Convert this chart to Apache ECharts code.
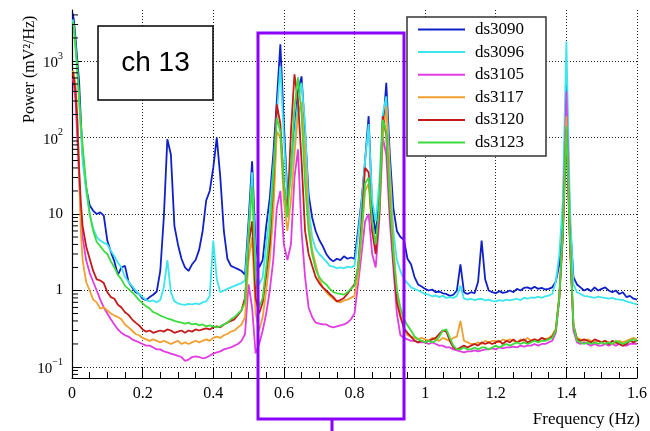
<!DOCTYPE html>
<html><head><meta charset="utf-8">
<script src="https://cdn.jsdelivr.net/npm/echarts@6/dist/echarts.min.js"></script>
<style>html,body{margin:0;padding:0;background:#fff}#c{width:650px;height:431px}</style>
</head><body><div id="c"></div><script>
// Frequency grid (Hz)
const freq = [0.002,0.005,0.01,0.015,0.02,0.025,0.03,
0.04,0.05,0.06,0.07,0.08,0.09,0.10,0.11,0.12,0.13,
0.14,0.15,0.16,0.17,0.18,0.19,0.20,0.21,0.22,0.23,
0.24,0.25,0.26,0.27,0.28,0.29,0.30,0.31,0.32,0.33,
0.34,0.35,0.36,0.37,0.38,0.39,0.40,0.41,0.42,0.43,
0.44,0.45,0.46,0.47,0.48,0.49,0.50,0.51,0.52,0.53,
0.54,0.55,0.56,0.57,0.58,0.59,0.60,0.61,0.62,0.63,
0.64,0.65,0.66,0.67,0.68,0.69,0.70,0.71,0.72,0.73,
0.74,0.75,0.76,0.77,0.78,0.79,0.80,0.81,0.82,0.83,
0.84,0.85,0.86,0.87,0.88,0.89,0.90,0.91,0.92,0.93,
0.94,0.95,0.96,0.97,0.98,0.99,1.00,1.01,1.02,1.03,
1.04,1.05,1.06,1.07,1.08,1.09,1.10,1.11,1.12,1.13,
1.14,1.15,1.16,1.17,1.18,1.19,1.20,1.21,1.22,1.23,
1.24,1.25,1.26,1.27,1.28,1.29,1.30,1.31,1.32,1.33,
1.34,1.35,1.36,1.37,1.38,1.39,1.40,1.41,1.42,1.43,
1.44,1.45,1.46,1.47,1.48,1.49,1.50,1.51,1.52,1.53,
1.54,1.55,1.56,1.57,1.58,1.59,1.60];

const ds3090 = [4200,3500,2000,1000,550,170,60,
22,13,11,10,10.5,9.5,4.5,3.2,2.4,1.6,
2.0,2.1,1.3,1.1,0.95,0.9,0.78,0.75,0.82,0.88,
0.97,1.8,9,95,60,7,4,2.6,2.0,1.8,
2.2,2.5,3.4,6,15,20,40,100,30,6,
2.6,2.1,2.0,1.9,1.8,1.6,8,49,4,2,
2.5,7,16,60,300,1650,150,18,35,120,
400,630,120,18,9,6,4.6,3.8,3.0,2.6,
2.4,2.6,2.5,2.8,2.6,2.7,2.6,6,15,50,
190,12,5.5,15,120,520,60,12,6,5,
4.6,2.6,2.2,1.5,1.2,1.13,1.05,1.0,1.03,0.95,
0.97,0.92,0.9,0.85,0.88,1.0,2.2,0.95,0.9,0.95,
0.92,1.3,4.5,1.4,1.0,0.95,0.92,0.98,0.93,0.95,
1.0,0.95,1.05,1.0,1.08,1.1,1.05,1.12,1.05,1.08,
1.03,1.05,1.1,1.3,2.2,8,630,8,1.5,1.2,
1.1,1.0,1.05,0.98,1.1,1.0,1.05,1.1,1.0,0.95,
1.0,0.9,0.95,0.82,0.85,0.78,0.76];

const ds3096 = [3500,2800,1500,700,300,120,50,
20,10,6.5,5,4.5,4.2,4,3.3,2.8,2.3,
2.0,1.5,1.3,1.15,1.0,0.9,0.82,0.75,0.72,0.74,
0.7,0.75,1.1,2.5,0.95,0.72,0.68,0.66,0.65,0.67,
0.66,0.68,0.66,0.7,0.72,0.85,4.5,1.4,0.95,1.0,
1.05,1.1,1.15,1.2,1.25,1.35,6,35,2.5,1.2,
1.5,4,10,40,200,850,100,15,30,100,
300,520,150,12,5,3.5,3.0,2.7,2.4,2.1,
2.05,1.95,2.0,1.95,2.05,2.0,2.1,5,14,50,
150,15,8,25,200,345,40,6,2.5,1.8,
1.4,1.25,1.1,1.05,1.0,0.95,0.9,0.88,0.84,0.86,
0.82,0.85,0.8,0.82,0.8,0.85,1.15,0.78,0.76,0.78,
0.75,0.77,0.78,0.74,0.76,0.73,0.72,0.75,0.73,0.76,
0.74,0.76,0.78,0.75,0.8,0.78,0.81,0.8,0.83,0.8,
0.84,0.86,0.9,1.3,3,15,1800,12,1.2,0.95,
0.9,0.85,0.84,0.82,0.8,0.83,0.81,0.8,0.78,0.8,
0.77,0.76,0.75,0.72,0.7,0.68,0.66];

const ds3105 = [600,500,300,100,30,10,5,
2.5,1.7,1.3,1.0,0.76,0.6,0.5,0.42,0.36,0.31,
0.28,0.26,0.25,0.23,0.22,0.21,0.2,0.19,0.19,0.18,
0.17,0.17,0.16,0.155,0.15,0.145,0.14,0.135,0.12,0.125,
0.135,0.138,0.135,0.13,0.133,0.14,0.15,0.155,0.16,0.17,
0.175,0.18,0.19,0.2,0.22,0.27,1.2,0.6,0.15,0.2,
0.3,0.5,1.0,2.5,12,20,4,2.5,4,30,
70,6,1.5,0.6,0.45,0.38,0.37,0.36,0.36,0.34,
0.33,0.34,0.35,0.36,0.38,0.42,0.5,1.2,3,8,
10,3,2,8,100,60,8,2,0.5,0.26,
0.24,0.23,0.22,0.22,0.21,0.21,0.21,0.2,0.21,0.2,
0.19,0.19,0.18,0.18,0.17,0.165,0.16,0.155,0.16,0.16,
0.165,0.16,0.165,0.17,0.17,0.175,0.17,0.18,0.175,0.18,
0.18,0.185,0.18,0.19,0.185,0.19,0.19,0.2,0.19,0.2,
0.2,0.21,0.22,0.28,0.8,6,400,5,0.3,0.21,
0.2,0.21,0.2,0.19,0.2,0.19,0.19,0.2,0.19,0.2,
0.19,0.2,0.19,0.19,0.2,0.2,0.2];

const ds3117 = [750,700,500,200,40,6,2.5,
1.3,1.0,0.76,0.7,0.58,0.6,0.55,0.5,0.47,0.45,
0.42,0.36,0.33,0.3,0.27,0.26,0.24,0.23,0.22,0.23,
0.22,0.21,0.22,0.21,0.2,0.21,0.22,0.2,0.21,0.2,
0.21,0.22,0.21,0.22,0.23,0.22,0.24,0.25,0.24,0.26,
0.27,0.29,0.3,0.33,0.36,0.45,2.5,5,0.5,0.3,
0.45,1.0,2.5,10,120,100,15,6,15,60,
200,290,60,8,3.4,2.2,1.4,1.1,0.95,0.85,
0.78,0.72,0.7,0.74,0.76,0.8,0.85,1.5,5,20,
25,6,3.5,10,100,255,30,4,1.0,0.5,
0.32,0.26,0.25,0.24,0.23,0.24,0.23,0.22,0.24,0.23,
0.22,0.24,0.23,0.22,0.24,0.25,0.4,0.22,0.21,0.2,
0.2,0.21,0.2,0.22,0.21,0.22,0.22,0.21,0.23,0.22,
0.23,0.22,0.21,0.23,0.22,0.24,0.22,0.23,0.22,0.24,
0.23,0.24,0.26,0.32,0.9,6,190,5,0.35,0.24,
0.23,0.22,0.23,0.22,0.21,0.22,0.21,0.22,0.21,0.2,
0.21,0.22,0.21,0.22,0.23,0.24,0.23];

const ds3120 = [700,600,400,160,40,14,7,
3.8,2.6,1.8,1.4,1.35,1.25,0.95,0.82,0.78,0.65,
0.6,0.52,0.48,0.42,0.38,0.35,0.31,0.29,0.3,0.28,
0.29,0.3,0.29,0.31,0.3,0.28,0.29,0.3,0.28,0.3,
0.29,0.31,0.3,0.31,0.32,0.31,0.33,0.34,0.33,0.36,
0.38,0.4,0.42,0.48,0.55,0.8,4,8,0.8,0.5,
0.7,1.6,4,25,270,150,25,10,120,670,
300,50,6,3,2.1,1.5,1.25,1.1,1.0,0.9,
0.82,0.72,0.75,0.8,0.9,1.05,1.2,2,8,40,
35,6,3,10,190,110,12,2.5,0.7,0.45,
0.32,0.28,0.25,0.22,0.21,0.22,0.21,0.22,0.23,0.24,
0.27,0.3,0.29,0.22,0.18,0.17,0.18,0.19,0.18,0.19,
0.2,0.19,0.21,0.2,0.21,0.2,0.21,0.22,0.2,0.22,
0.21,0.23,0.21,0.22,0.23,0.21,0.22,0.23,0.22,0.24,
0.23,0.23,0.25,0.3,0.8,5,125,4,0.35,0.23,
0.22,0.23,0.22,0.21,0.23,0.22,0.21,0.22,0.2,0.22,
0.21,0.2,0.19,0.2,0.22,0.21,0.22];

const ds3123 = [3200,3000,1500,800,350,150,80,
24,10,6,4.3,3.8,3.3,3.0,2.4,2.0,1.6,
1.4,1.15,1.05,0.95,0.85,0.75,0.68,0.62,0.58,0.52,
0.5,0.47,0.45,0.43,0.42,0.4,0.39,0.38,0.37,0.38,
0.36,0.37,0.35,0.36,0.34,0.35,0.34,0.33,0.34,0.36,
0.38,0.42,0.45,0.5,0.55,0.7,5,23,1.5,0.6,
0.8,2,6,30,180,120,25,9,40,250,
610,200,25,6,3,1.9,1.5,1.3,1.2,1.05,
0.95,0.92,0.9,0.88,0.95,1.05,1.15,2,6,25,
30,8,4,12,170,120,15,3,1,0.6,
0.42,0.35,0.3,0.25,0.23,0.22,0.21,0.22,0.21,0.22,
0.25,0.3,0.31,0.24,0.19,0.17,0.17,0.18,0.17,0.17,
0.18,0.17,0.18,0.18,0.17,0.18,0.19,0.18,0.19,0.2,
0.19,0.2,0.21,0.2,0.21,0.2,0.21,0.22,0.21,0.22,
0.22,0.23,0.24,0.3,0.8,6,140,5,0.35,0.22,
0.21,0.2,0.21,0.2,0.21,0.2,0.21,0.2,0.21,0.2,
0.22,0.21,0.2,0.21,0.22,0.23,0.22];

const seriesNames = ['ds3090','ds3096','ds3105','ds3117','ds3120','ds3123'];
const seriesValues = [ds3090, ds3096, ds3105, ds3117, ds3120, ds3123];
const seriesColors = ['#1020c8','#3ce6ec','#e23be0','#f0a030','#c41a1a','#3ddc3d'];
const yMinorTicks = [0.08,0.09,0.2,0.3,0.4,0.5,0.6,0.7,0.8,0.9,2,3,4,5,6,7,8,9,
  20,30,40,50,60,70,80,90,200,300,400,500,600,700,800,900,2000,3000,4000];
const xMin = 0, xMax = 1.6, xStep = 0.2;
const yMin = 0.0718, yMax = 4640;

const SERIF = '"Liberation Serif", "DejaVu Serif", serif';
const chart = echarts.init(document.getElementById('c'), null, {renderer: 'canvas'});

const series = seriesNames.map((name, k) => ({
  name: name,
  type: 'line',
  data: freq.map((f, i) => [f, seriesValues[k][i]]),
  showSymbol: false,
  symbol: 'none',
  lineStyle: {width: 1.8, color: seriesColors[k]},
  itemStyle: {color: seriesColors[k]},
  z: 2 + k,
  animation: false
}));

series.push({
  type: 'custom',
  name: 'minor',
  silent: true,
  clip: false,
  z: 20,
  data: yMinorTicks.map(v => [xMin, v]),
  renderItem: function (params, api) {
    const p = api.coord([api.value(0), api.value(1)]);
    return {type: 'line', shape: {x1: p[0], y1: p[1], x2: p[0] + 6, y2: p[1]},
            style: {stroke: '#000', lineWidth: 1}};
  }
});

function yFmt(v) {
  const l = Math.log10(v);
  const e = Math.round(l);
  if (Math.abs(l - e) > 1e-6) return '';
  if (e === 0) return '1';
  if (e === 1) return '10';
  return '{b|10}{s|' + (e < 0 ? '\u2212' : '') + Math.abs(e) + '}';
}

chart.setOption({
  animation: false,
  backgroundColor: '#fff',
  grid: {left: 72, right: 10, top: 10, bottom: 53, containLabel: false},
  xAxis: {
    type: 'value', min: xMin, max: xMax, interval: xStep,
    axisLine: {show: true, onZero: false, lineStyle: {color: '#000', width: 1.2}},
    axisTick: {show: true, inside: true, length: 11, lineStyle: {color: '#000'}},
    minorTick: {show: true, splitNumber: 4, length: 6, lineStyle: {color: '#000'}},
    axisLabel: {color: '#000', fontFamily: SERIF, fontSize: 16, margin: 8,
      showMinLabel: true, showMaxLabel: true},
    splitLine: {show: true, showMinLine: false, showMaxLine: true,
      lineStyle: {color: '#222', type: [1, 2], width: 1}}
  },
  yAxis: {
    type: 'log', logBase: 10, min: yMin, max: yMax,
    axisLine: {show: true, lineStyle: {color: '#000', width: 1.2}},
    axisTick: {show: true, inside: true, length: 10, lineStyle: {color: '#000'},
      interval: function (i, v) { return yFmt(+v) !== ''; }},
    axisLabel: {color: '#000', fontFamily: SERIF, fontSize: 15, margin: 9,
      showMinLabel: false, showMaxLabel: false,
      formatter: yFmt,
      rich: {
        b: {fontFamily: SERIF, fontSize: 15, color: '#000', lineHeight: 20, verticalAlign: 'bottom'},
        s: {fontFamily: SERIF, fontSize: 10, color: '#000', lineHeight: 20, verticalAlign: 'top', padding: [0, 0, 0, 0]}
      }},
    splitLine: {show: true, showMinLine: false, showMaxLine: false,
      lineStyle: {color: '#222', type: [1, 2], width: 1}}
  },
  legend: {
    show: true, orient: 'vertical', left: 418, top: 21, padding: 0,
    itemWidth: 47, itemHeight: 14, itemGap: 5.6, z: 200,
    icon: 'path://M0,6 L47,6 L47,8 L0,8 Z',
    data: seriesNames,
    textStyle: {color: '#000', fontFamily: SERIF, fontSize: 17, padding: [0, 0, 0, 5]},
    selectedMode: false
  },
  series: series,
  graphic: [
    {type: 'rect', z: 100, shape: {x: 98, y: 26, width: 115, height: 74},
     style: {fill: '#fff', stroke: '#000', lineWidth: 1.5}},
    {type: 'text', z: 101, x: 155.5, y: 63,
     style: {text: 'ch 13', font: '28px "Liberation Sans", Arial, sans-serif',
       fill: '#000', textAlign: 'center', textVerticalAlign: 'middle'}},
    {type: 'rect', z: 100, shape: {x: 407, y: 17, width: 139, height: 139},
     style: {fill: '#fff', stroke: '#333', lineWidth: 1.5}},
    {type: 'rect', z: 150, shape: {x: 258, y: 33, width: 146, height: 386},
     style: {fill: 'none', stroke: '#8b00ff', lineWidth: 3}},
    {type: 'line', z: 150, shape: {x1: 332, y1: 419, x2: 332, y2: 431},
     style: {stroke: '#8b00ff', lineWidth: 3}},
    {type: 'text', z: 101, x: 30, y: 123, rotation: Math.PI / 2,
     style: {text: 'Power (mV\u00B2/Hz)', font: '16px "Liberation Serif", serif',
       fill: '#000', textAlign: 'left', textVerticalAlign: 'middle'}},
    {type: 'text', z: 101, x: 640, y: 420,
     style: {text: 'Frequency (Hz)', font: '17px "Liberation Serif", serif',
       fill: '#000', textAlign: 'right', textVerticalAlign: 'middle'}}
  ]
});
</script></body></html>
